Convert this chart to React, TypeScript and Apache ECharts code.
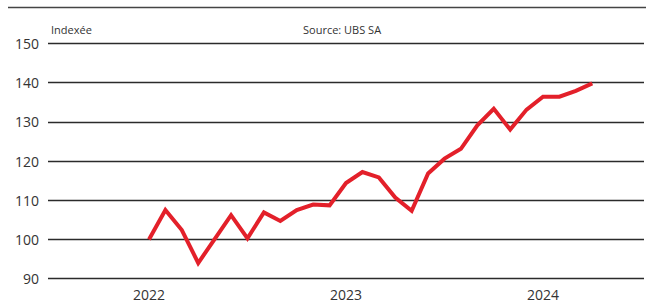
import React, { useEffect, useRef } from "react";
import * as echarts from "echarts";

const yearLabels = ["2022", "2023", "2024"];
const yearPositions = [0, 12, 24];
const monthIndex = [0, 1, 2, 3, 4, 5, 6, 7, 8, 9, 10, 11, 12, 13, 14, 15, 16, 17, 18, 19, 20, 21, 22, 23, 24, 25, 26, 27];
const indexValues = [
  100, 107.5, 102.4, 94.0, 100.1, 106.2, 100.3, 106.9, 104.7, 107.5, 108.9, 108.7,
  114.4, 117.2, 115.8, 110.7, 107.3, 116.8, 120.6, 123.1, 129.1, 133.3, 128.0, 133.1,
  136.4, 136.4, 137.9, 139.8,
];
const yTicks = [90, 100, 110, 120, 130, 140, 150];

const FONT = "'Open Sans', 'Noto Sans', sans-serif";

export default function App() {
  const ref = useRef<HTMLDivElement>(null);
  useEffect(() => {
    if (!ref.current) return;
    const chart = echarts.init(ref.current, undefined, { renderer: "svg" });
    chart.setOption({
      animation: false,
      backgroundColor: "#ffffff",
      grid: { left: 48, right: 2, top: 43.3, bottom: 24.3 },
      xAxis: {
        type: "value",
        min: -6.15,
        max: 30.15,
        axisLine: { show: false },
        axisTick: { show: false },
        splitLine: { show: false },
        axisLabel: {
          customValues: yearPositions,
          formatter: (v: number) => yearLabels[yearPositions.indexOf(v)] ?? "",
          color: "#333",
          fontSize: 14,
          fontFamily: FONT,
          margin: 9,
        },
      },
      yAxis: {
        type: "value",
        min: yTicks[0],
        max: yTicks[yTicks.length - 1],
        interval: 10,
        axisLine: { show: false },
        axisTick: { show: false },
        splitLine: { lineStyle: { color: "#2b2b2b", width: 1.3 } },
        axisLabel: { color: "#333", fontSize: 14, fontFamily: FONT, margin: 9 },
      },
      graphic: [
        { type: "line", shape: { x1: 8, y1: 7.5, x2: 646, y2: 7.5 }, style: { stroke: "#444", lineWidth: 1.5 } },
        { type: "text", x: 51, y: 29, style: { text: "Indexée", fill: "#333", fontSize: 11, fontFamily: FONT, verticalAlign: "middle" } },
        { type: "text", x: 303, y: 29, style: { text: "Source: UBS SA", fill: "#333", fontSize: 11, fontFamily: FONT, verticalAlign: "middle" } },
      ],
      series: [
        {
          type: "line",
          data: monthIndex.map((m, i) => [m, indexValues[i]]),
          showSymbol: false,
          lineStyle: { color: "#e3202a", width: 4, join: "miter" },
        },
      ],
    });
    return () => chart.dispose();
  }, []);
  return <div ref={ref} style={{ position: "absolute", left: 0, top: 0, width: 646, height: 303 }} />;
}
